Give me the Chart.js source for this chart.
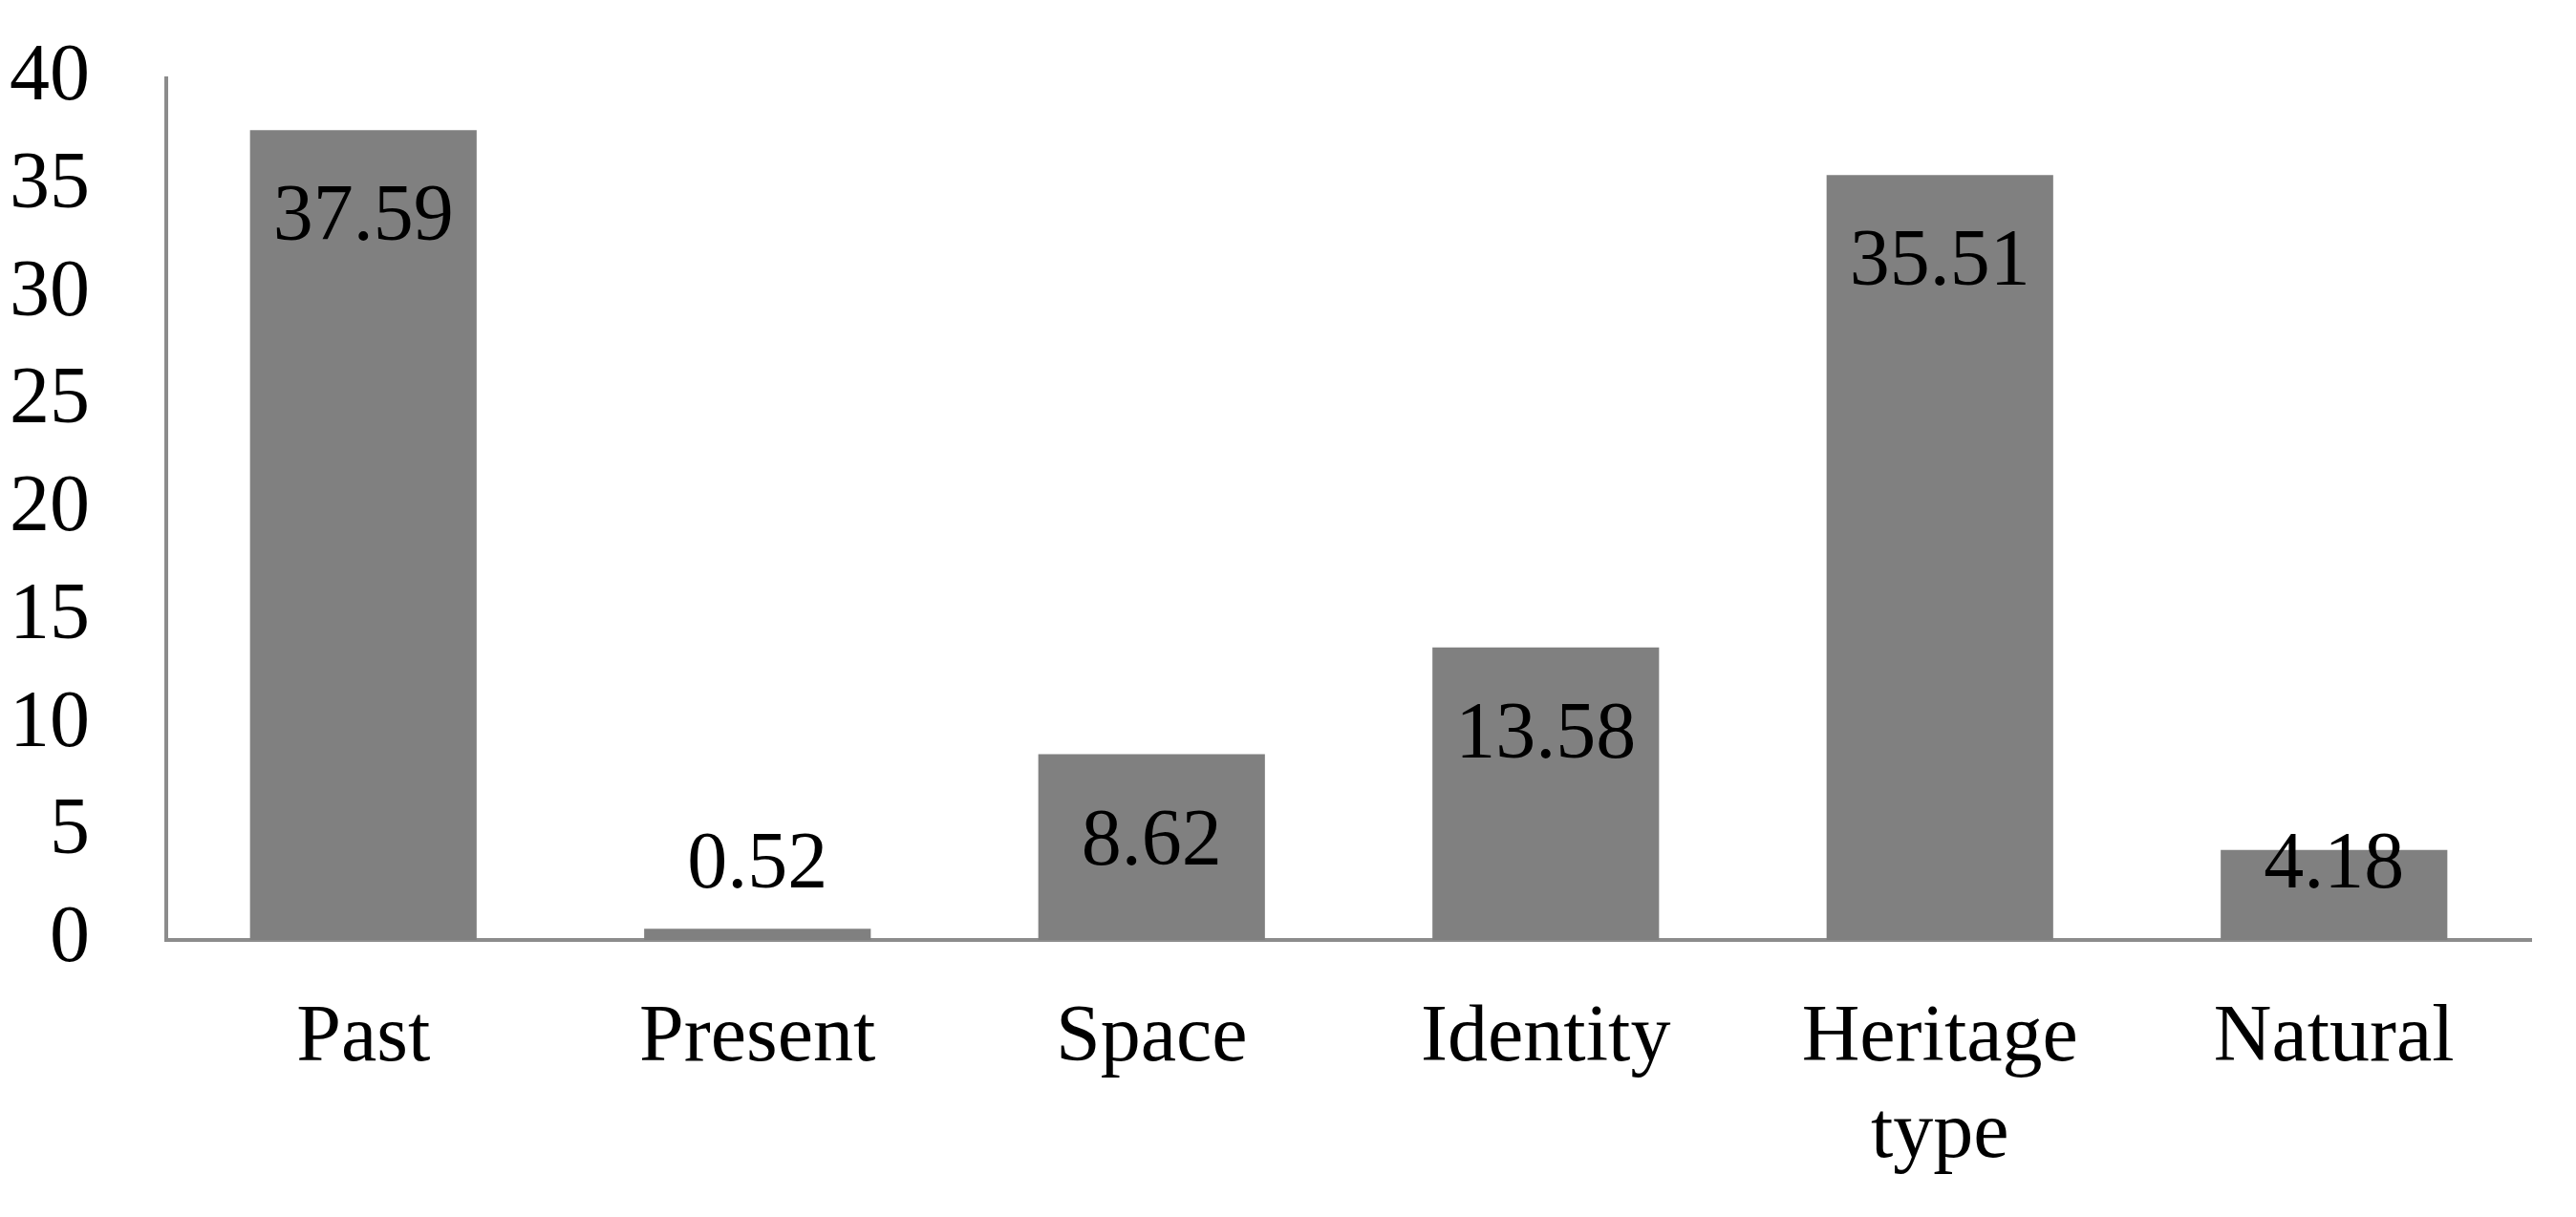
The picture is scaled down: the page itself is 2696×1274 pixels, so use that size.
<!DOCTYPE html>
<html>
<head>
<meta charset="utf-8">
<script src="https://cdn.jsdelivr.net/npm/chart.js@4"></script>
<style>
  html, body { margin: 0; padding: 0; background: #fff; }
  #wrap { width: 2696px; height: 1274px; }
</style>
</head>
<body>
<div id="wrap"><canvas id="barchart" width="2696" height="1274"></canvas></div>
<script>
const categorias = ['Past', 'Present', 'Space', 'Identity', ['Heritage', 'type'], 'Natural'];
const valores = [37.59, 0.52, 8.62, 13.58, 35.51, 4.18];
const rotulos = ['37.59', '0.52', '8.62', '13.58', '35.51', '4.18'];
const yTicks = [0, 5, 10, 15, 20, 25, 30, 35, 40];

const fonte = '"Liberation Serif", "Times New Roman", serif';
const corEixo = '#8c8c8c';

// rótulos de valor dentro do topo da barra (estilo Excel)
const rotulosPlugin = {
    id: 'rotulos',
    afterDatasetsDraw(chart) {
        const ctx = chart.ctx;
        const meta = chart.getDatasetMeta(0);
        const base = chart.scales.y.getPixelForValue(0);
        ctx.save();
        ctx.font = '84px ' + fonte;
        ctx.fillStyle = '#000';
        ctx.textAlign = 'center';
        ctx.textBaseline = 'middle';
        meta.data.forEach((bar, i) => {
            const y = Math.min(bar.y + 93, base - 77);
            ctx.fillText(rotulos[i], bar.x, y);
        });
        ctx.restore();
    }
};

document.addEventListener('DOMContentLoaded', function() {
    const ctx = document.getElementById('barchart').getContext('2d');

    new Chart(ctx, {
        type: 'bar',
        data: {
            labels: categorias,
            datasets: [{
                data: valores,
                backgroundColor: '#808080',
                borderWidth: 0,
                categoryPercentage: 1,
                barPercentage: 0.575
            }]
        },
        options: {
            responsive: false,
            animation: false,
            layout: { padding: { top: 82, right: 47, bottom: 0, left: 0 } },
            plugins: {
                legend: { display: false },
                tooltip: { enabled: false }
            },
            scales: {
                x: {
                    grid: { display: false },
                    border: { color: corEixo, width: 4 },
                    ticks: {
                        color: '#000',
                        padding: 46,
                        maxRotation: 0,
                        autoSkip: false,
                        font: { family: fonte, size: 84, lineHeight: 1.2 }
                    },
                    afterFit(scale) { scale.height = 290; }
                },
                y: {
                    min: 0,
                    max: 40,
                    grid: { display: false },
                    border: { color: corEixo, width: 4 },
                    afterBuildTicks(scale) {
                        scale.ticks = yTicks.map(v => ({ value: v }));
                    },
                    ticks: {
                        color: '#000',
                        padding: 72,
                        font: { family: fonte, size: 84 }
                    },
                    afterFit(scale) {
                        scale.width = 174;
                        scale.paddingTop = 0;
                        scale.paddingBottom = 0;
                    }
                }
            }
        },
        plugins: [rotulosPlugin]
    });
});
</script>
</body>
</html>
